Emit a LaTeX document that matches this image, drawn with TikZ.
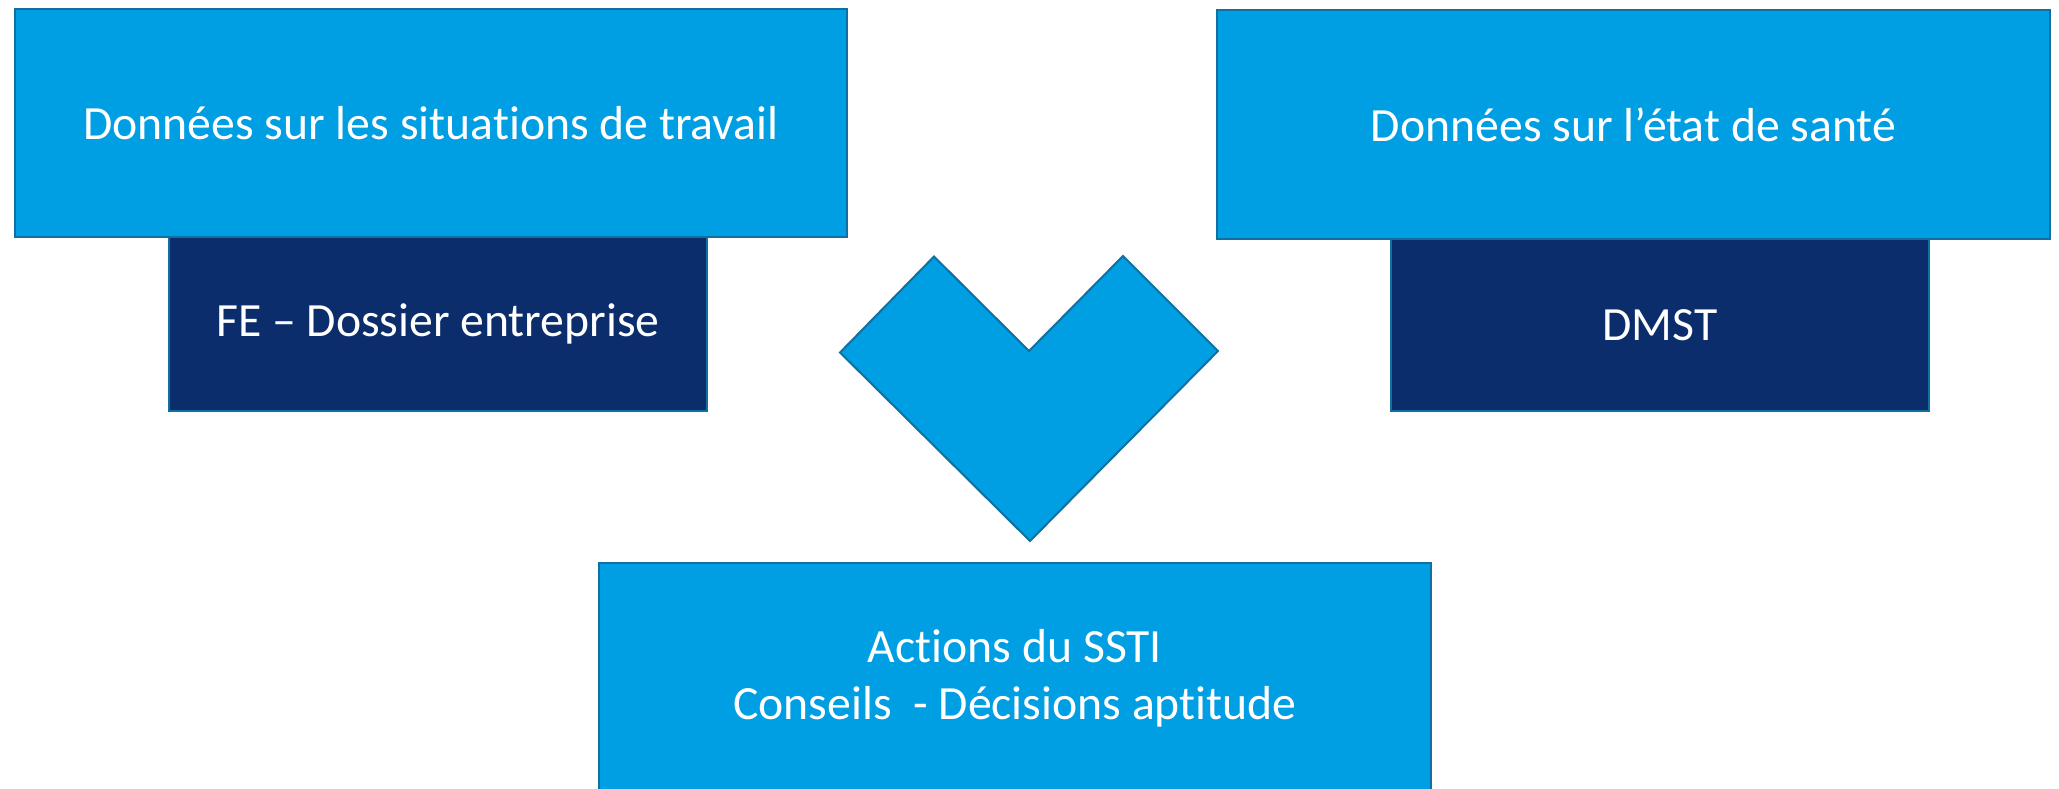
\documentclass[tikz,border=0pt]{standalone}
\usepackage{fontspec}
\setmainfont[Ligatures={NoCommon}]{Carlito}
\definecolor{lightblue}{RGB}{0,158,226}
\definecolor{darkblue}{RGB}{12,45,108}
\definecolor{edgeblue}{RGB}{16,112,162}
\begin{document}
\begin{tikzpicture}[x=1pt,y=-1pt,
  box/.style={draw=edgeblue, line width=2pt, rectangle, inner sep=0pt,
    text=white, align=center, font=\fontsize{47.7}{57}\selectfont},
  lightbox/.style={box, fill=lightblue},
  darkbox/.style={box, fill=darkblue}]
\useasboundingbox (0,0) rectangle (2059,789);
\clip (0,0) rectangle (2059,789);
% top light boxes
\node[lightbox, minimum width=832pt, minimum height=228pt] (situations) at (431,123) {Données sur les situations de travail};
\node[lightbox, minimum width=833pt, minimum height=229pt] (sante) at (1633.5,124.5) {Données sur l’état de santé};
% dark boxes
\node[darkbox, minimum width=538pt, minimum height=174pt] (fe) at (438,324) {FE – Dossier entreprise};
\node[darkbox, minimum width=538pt, minimum height=172pt] (dmst) at (1660,325) {DMST};
% chevron
\coordinate (cl) at (840,352.5);
\coordinate (ctl) at (934,256.5);
\coordinate (ci) at (1029,351);
\coordinate (ctr) at (1123,256);
\coordinate (cr) at (1218,351);
\coordinate (cb) at (1030,541);
\draw[fill=lightblue, draw=edgeblue, line width=2pt, line join=miter] (cl) -- (ctl) -- (ci) -- (ctr) -- (cr) -- (cb) -- cycle;
% bottom box
\node[lightbox, minimum width=832pt, minimum height=230pt] (actions) at (1015,678) {Actions du SSTI\\Conseils~~- Décisions aptitude};
\end{tikzpicture}
\end{document}
